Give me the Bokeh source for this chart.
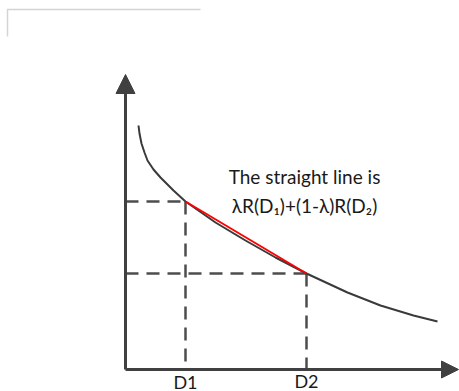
from bokeh.plotting import figure
from bokeh.models import Arrow, NormalHead
from bokeh.core.properties import value
from bokeh.embed import file_html
from bokeh.resources import INLINE

# Rate–distortion curve R(D) (distortion on x, rate on y)
curve_d = [13, 14, 16, 19, 22, 28, 35, 48, 60, 90, 120, 150, 181, 222, 255, 288, 312]
curve_r = [244, 236, 226, 217, 209, 200, 192, 179, 168, 147, 129, 112, 96, 77, 64, 54, 48]

# The two operating points
d_points = [60, 181]
r_points = [168, 96]
d_labels = ["D1", "D2"]

chord_text = ["The straight line is", "λR(D₁)+(1-λ)R(D₂)"]

AXIS = "#404040"
CURVE = "#3a3a3a"
DASH = "#4d4d4d"
FONT = value("Lato")

p = figure(width=459, height=391, x_range=(-125, 334), y_range=(-22, 369),
           output_backend="svg", toolbar_location=None, min_border=0)
p.axis.visible = False
p.grid.visible = False
p.outline_line_color = None
p.background_fill_color = "white"
p.border_fill_color = "white"

# faint frame in the corner
p.line([-118, -118, 75], [333, 360, 360], line_color="#d4d4d4", line_width=1.5)

# dashed guides from each point to the axes
for d, r in zip(d_points, r_points):
    p.line([0, d], [r, r], line_color=DASH, line_width=2.5, line_dash="13 8")
    p.line([d, d], [r, 0], line_color=DASH, line_width=2.5, line_dash="13 8")

# axes with arrow heads
p.add_layout(Arrow(end=NormalHead(size=19, fill_color=AXIS, line_color=AXIS),
                   x_start=0, y_start=0, x_end=0, y_end=295,
                   line_color=AXIS, line_width=3))
p.add_layout(Arrow(end=NormalHead(size=17, fill_color=AXIS, line_color=AXIS),
                   x_start=0, y_start=0, x_end=333, y_end=0,
                   line_color=AXIS, line_width=3))

# the convex curve
p.line(curve_d, curve_r, line_color=CURVE, line_width=2, line_join="round")

# chord between the two points
p.line(d_points, r_points, line_color="#ff0000", line_width=2)

# annotation
p.text(x=[179, 179], y=[193, 164], text=chord_text,
       text_font=FONT, text_font_size="19px", text_color="#1a1a1a",
       text_align="center", text_baseline="middle")

# tick labels for D1, D2
p.text(x=d_points, y=[-12, -11], text=d_labels,
       text_font=FONT, text_font_size="18px", text_color="#1a1a1a",
       text_align="center", text_baseline="middle")

open("out.html", "w").write(file_html(p, INLINE))
